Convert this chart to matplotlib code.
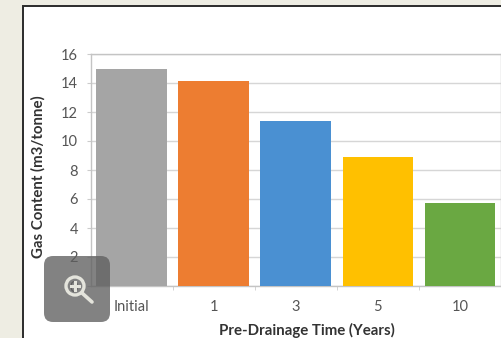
import matplotlib
matplotlib.use("Agg")
import matplotlib.pyplot as plt
from matplotlib.patches import Circle, FancyBboxPatch, Rectangle
from matplotlib.lines import Line2D

categories = ["Initial", "1", "3", "5", "10"]
gas_content = [15.0, 14.15, 11.35, 8.9, 5.75]
bar_colors = ["#a5a5a5", "#ed7d31", "#4a90d2", "#ffc000", "#6aa842"]
y_ticks = [0, 2, 4, 6, 8, 10, 12, 14, 16]

W, H = 502, 338
plt.rcParams["font.family"] = ["Lato", "DejaVu Sans"]

fig = plt.figure(figsize=(W / 100, H / 100), dpi=100, facecolor="#eeede3")

# White card with a dark border that runs off the right and bottom edges
fig.add_artist(Rectangle((23 / W, -10 / H), (W + 20 - 23) / W, (H + 10 - 6) / H,
                         transform=fig.transFigure, facecolor="white",
                         edgecolor="#2b2b2b", linewidth=1.4, zorder=0))

ax = fig.add_axes([90.5 / W, 1 - 286 / H, (501 - 90.5) / W, (286 - 54) / H], zorder=1)
ax.patch.set_alpha(0)
positions = list(range(len(categories)))
ax.bar(positions, gas_content, width=0.86, color=bar_colors, zorder=3)

ax.set_xlim(-0.5, 4.5)
ax.set_ylim(0, 16)
ax.set_xticks(positions, categories)
ax.set_xticks([p + 0.5 for p in positions[:-1]], minor=True)
ax.set_yticks(y_ticks)
ax.grid(axis="y", color="#d6d6d6", linewidth=1.0, zorder=1)
ax.set_axisbelow(True)
for side in ax.spines.values():
    side.set_color("#c4c4c4")
    side.set_linewidth(1.0)
ax.tick_params(axis="y", colors="#555555", labelsize=10.5, length=3, pad=6, color="#cccccc")
ax.tick_params(axis="x", which="major", colors="#555555", labelsize=10.5, length=0, pad=10)
ax.tick_params(axis="x", which="minor", length=3, color="#cccccc")
ax.set_ylabel("Gas Content (m3/tonne)", fontsize=10.8, fontweight="bold", color="#333333")
ax.yaxis.set_label_coords(-0.109, 0.47)
ax.set_xlabel("Pre-Drainage Time (Years)", fontsize=10.8, fontweight="bold", color="#333333")
ax.xaxis.set_label_coords(0.526, -0.16)

# Zoom badge over the lower-left corner of the plot
badge = FancyBboxPatch((49, H - 317), 56, 56, boxstyle="round,pad=5,rounding_size=9",
                       transform=None, facecolor="#5f5f5f", edgecolor="none",
                       alpha=0.78, zorder=5)
fig.add_artist(badge)

glyph_x, glyph_y = 75, H - 286
glyph_color = "#e4e4dc"
fig.add_artist(Circle((glyph_x, glyph_y), 9, transform=None, facecolor="none",
                      edgecolor=glyph_color, linewidth=2.4, zorder=6))
fig.add_artist(Line2D([glyph_x + 7, glyph_x + 17], [glyph_y - 7, glyph_y - 16], transform=None,
                      color=glyph_color, linewidth=2.6, solid_capstyle="round", zorder=6))
fig.add_artist(Line2D([glyph_x - 4, glyph_x + 4], [glyph_y, glyph_y], transform=None,
                      color=glyph_color, linewidth=2.2, zorder=6))
fig.add_artist(Line2D([glyph_x, glyph_x], [glyph_y - 4, glyph_y + 4], transform=None,
                      color=glyph_color, linewidth=2.2, zorder=6))

fig.savefig("out.png", dpi=100, facecolor=fig.get_facecolor())
